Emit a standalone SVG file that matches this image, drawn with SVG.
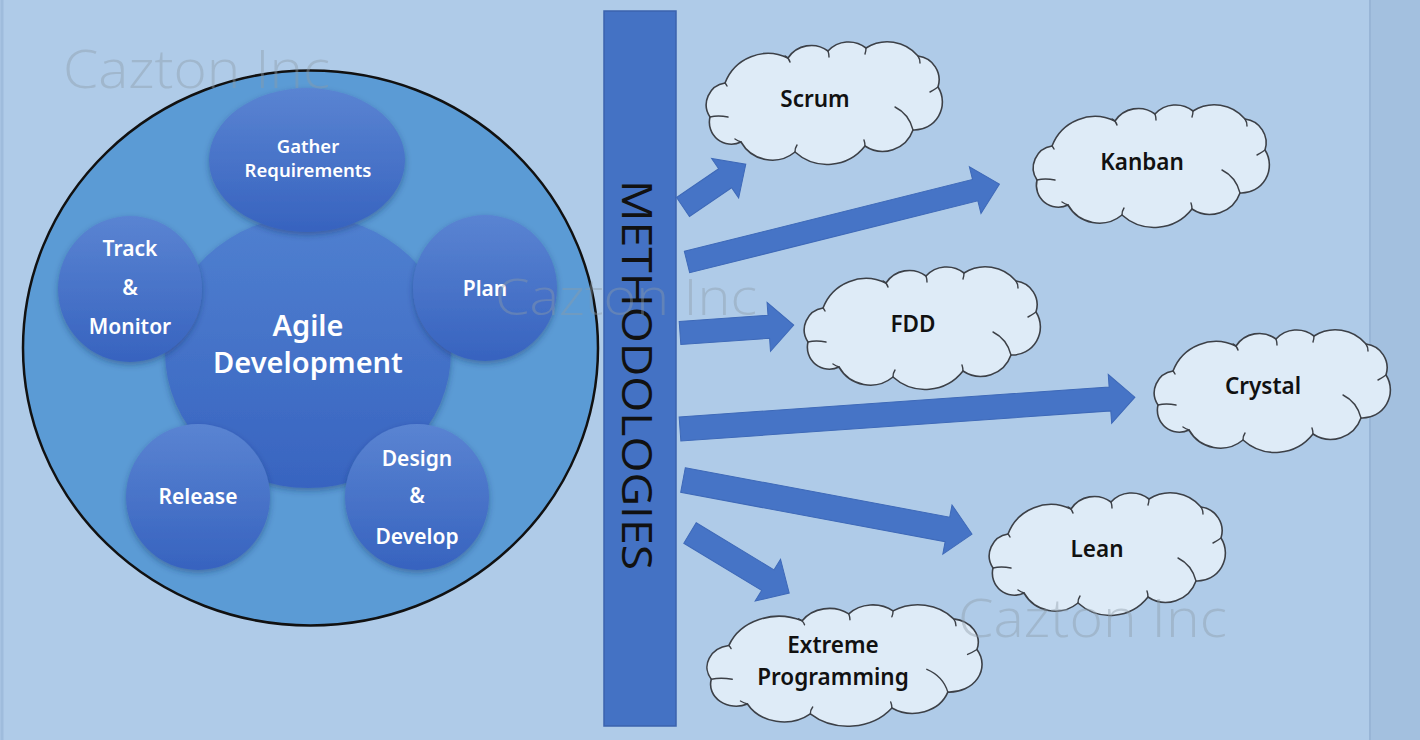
<svg xmlns="http://www.w3.org/2000/svg" xmlns:xlink="http://www.w3.org/1999/xlink" width="1420" height="740" viewBox="0 0 1420 740">
<style>
.wt{font-family:"Noto Sans","Liberation Sans",sans-serif;font-weight:600;fill:#ffffff;text-anchor:middle}
.ct{font-family:"Noto Sans","Liberation Sans",sans-serif;font-weight:600;fill:#111111;text-anchor:middle;font-size:22.5px}
.cloud{fill:#deebf7;stroke:#3c4047;stroke-width:1.6;vector-effect:non-scaling-stroke}
.seam{fill:none;stroke:#3c4047;stroke-width:1.4;vector-effect:non-scaling-stroke;stroke-linecap:round}
.arrow{fill:#4674c6;stroke:#3e69b8;stroke-width:1}
.wm{font-family:"Open Sans","Liberation Sans",sans-serif;font-weight:300;fill:#8c9aa8;fill-opacity:0.42}
</style>
<defs>
<linearGradient id="gSmall" x1="0" y1="0" x2="0" y2="1">
<stop offset="0" stop-color="#5a84d2"/>
<stop offset="1" stop-color="#3763bf"/>
</linearGradient>
<linearGradient id="gCenter" x1="0" y1="0" x2="0" y2="1">
<stop offset="0" stop-color="#5080d0"/>
<stop offset="1" stop-color="#3864c0"/>
</linearGradient>
<filter id="sh" x="-20%" y="-20%" width="140%" height="150%">
<feDropShadow dx="0" dy="3" stdDeviation="3" flood-color="#1c2f5e" flood-opacity="0.4"/>
</filter>
<path id="cloudShape" class="cloud" d="M23,43 A46,46 0 0 1 86,18 A28,28 0 0 1 126,11 A28,28 0 0 1 164,8 A40,40 0 0 1 216,16 A24,24 0 0 1 236,47 A28,28 0 0 1 211,90 A32,32 0 0 1 163,106 A48,48 0 0 1 93,112 A36,36 0 0 1 39,102 A22,22 0 0 1 8,77 A22,22 0 0 1 23,43 Z"/>
<path id="cloudSeams" class="seam" d="M83,16 Q87,18 88,22 M126,11 Q127,14 127,17 M164,8 Q164,11 163,14 M216,16 Q218,19 218,23 M236,47 Q232,50 228,52 M193,67 Q207,74 211,90 M163,106 Q163,103 162,100 M93,112 Q93,108 95,105 M39,102 Q36,101 33,99 M8,77 Q16,75 26,77 M23,43 Q24,44 25,46"/>
</defs>

<!-- background -->
<rect x="0" y="0" width="1420" height="740" fill="#afcbe8"/>
<rect x="1369" y="0" width="51" height="740" fill="#a3c0df"/>
<line x1="1370" y1="0" x2="1370" y2="740" stroke="#98b5d6" stroke-width="2"/>
<line x1="2" y1="0" x2="2" y2="740" stroke="#9fbcdc" stroke-width="3"/>

<!-- agile cycle -->
<g id="agile-outer">
<ellipse cx="310.5" cy="348" rx="287.5" ry="277.5" fill="#5b9bd5" stroke="#111111" stroke-width="2.5"/>
</g>
<g id="agile-development">
<ellipse cx="308" cy="352" rx="143" ry="136" fill="url(#gCenter)" filter="url(#sh)"/>
<text class="wt" x="308" y="336" font-size="29">Agile</text>
<text class="wt" x="308" y="373" font-size="29">Development</text>
</g>
<g id="gather-requirements">
<ellipse cx="307" cy="160" rx="98" ry="72" fill="url(#gSmall)" filter="url(#sh)"/>
<text class="wt" x="308" y="153" font-size="18.5">Gather</text>
<text class="wt" x="308" y="177" font-size="18.5">Requirements</text>
</g>
<g id="track-monitor">
<ellipse cx="130" cy="289" rx="72" ry="73" fill="url(#gSmall)" filter="url(#sh)"/>
<text class="wt" x="130" y="256" font-size="21">Track</text>
<text class="wt" x="130" y="295" font-size="21">&amp;</text>
<text class="wt" x="130" y="334" font-size="21">Monitor</text>
</g>
<g id="plan">
<ellipse cx="485" cy="288" rx="72" ry="73" fill="url(#gSmall)" filter="url(#sh)"/>
<text class="wt" x="485" y="296" font-size="21">Plan</text>
</g>
<g id="release">
<ellipse cx="198" cy="497" rx="72" ry="73" fill="url(#gSmall)" filter="url(#sh)"/>
<text class="wt" x="198" y="504" font-size="21">Release</text>
</g>
<g id="design-develop">
<ellipse cx="417" cy="497" rx="72" ry="73" fill="url(#gSmall)" filter="url(#sh)"/>
<text class="wt" x="417" y="466" font-size="21">Design</text>
<text class="wt" x="417" y="503" font-size="21">&amp;</text>
<text class="wt" x="417" y="544" font-size="21">Develop</text>
</g>

<!-- methodologies bar -->
<g id="methodologies">
<rect x="604" y="11" width="72" height="715" fill="#4472c4" stroke="#3b63ad" stroke-width="1.5"/>
<text transform="translate(622,375) rotate(90)" x="0" y="0" text-anchor="middle" font-family="'Open Sans','Liberation Sans',sans-serif" font-size="42" fill="#111111" textLength="390" lengthAdjust="spacingAndGlyphs">METHODOLOGIES</text>
</g>

<!-- connectors -->
<g id="connectors">
<path class="arrow" transform="translate(683,207) rotate(-34.3)" d="M0,-11.5 H51 V-24 L76,0 L51,24 V11.5 H0 Z"/>
<path class="arrow" transform="translate(687,262) rotate(-14)" d="M0,-11 H297 V-24 L322,0 L297,24 V11 H0 Z"/>
<path class="arrow" transform="translate(680,333) rotate(-4)" d="M0,-11.5 H89 V-24.5 L114,0 L89,24.5 V11.5 H0 Z"/>
<path class="arrow" transform="translate(680,429) rotate(-4)" d="M0,-12 H431 V-24.5 L456,0 L431,24.5 V12 H0 Z"/>
<path class="arrow" transform="translate(683,480) rotate(10.6)" d="M0,-12.5 H269 V-25 L294,0 L269,25 V12.5 H0 Z"/>
<path class="arrow" transform="translate(690,533) rotate(31.2)" d="M0,-12 H91 V-24.5 L116,0 L91,24.5 V12 H0 Z"/>
</g>

<!-- clouds -->
<g id="scrum">
<g transform="translate(702,40)"><use xlink:href="#cloudShape"/><use xlink:href="#cloudSeams"/></g>
<text class="ct" x="815" y="107">Scrum</text>
</g>
<g id="kanban">
<g transform="translate(1029,103)"><use xlink:href="#cloudShape"/><use xlink:href="#cloudSeams"/></g>
<text class="ct" x="1142" y="170">Kanban</text>
</g>
<g id="fdd">
<g transform="translate(800,265)"><use xlink:href="#cloudShape"/><use xlink:href="#cloudSeams"/></g>
<text class="ct" x="913" y="332">FDD</text>
</g>
<g id="crystal">
<g transform="translate(1150,328)"><use xlink:href="#cloudShape"/><use xlink:href="#cloudSeams"/></g>
<text class="ct" x="1263" y="394">Crystal</text>
</g>
<g id="lean">
<g transform="translate(985,491)"><use xlink:href="#cloudShape"/><use xlink:href="#cloudSeams"/></g>
<text class="ct" x="1097" y="557">Lean</text>
</g>
<g id="extreme-programming">
<g transform="translate(702,603) scale(1.165,0.99)"><use xlink:href="#cloudShape"/><use xlink:href="#cloudSeams"/></g>
<text class="ct" x="833" y="653">Extreme</text>
<text class="ct" x="833" y="685">Programming</text>
</g>

<!-- watermarks -->
<text class="wm" x="63" y="88" font-size="54" textLength="267" lengthAdjust="spacingAndGlyphs">Cazton Inc</text>
<text class="wm" x="495" y="315" font-size="50" textLength="262" lengthAdjust="spacingAndGlyphs">Cazton Inc</text>
<text class="wm" x="958" y="637" font-size="54" textLength="269" lengthAdjust="spacingAndGlyphs">Cazton Inc</text>
</svg>
